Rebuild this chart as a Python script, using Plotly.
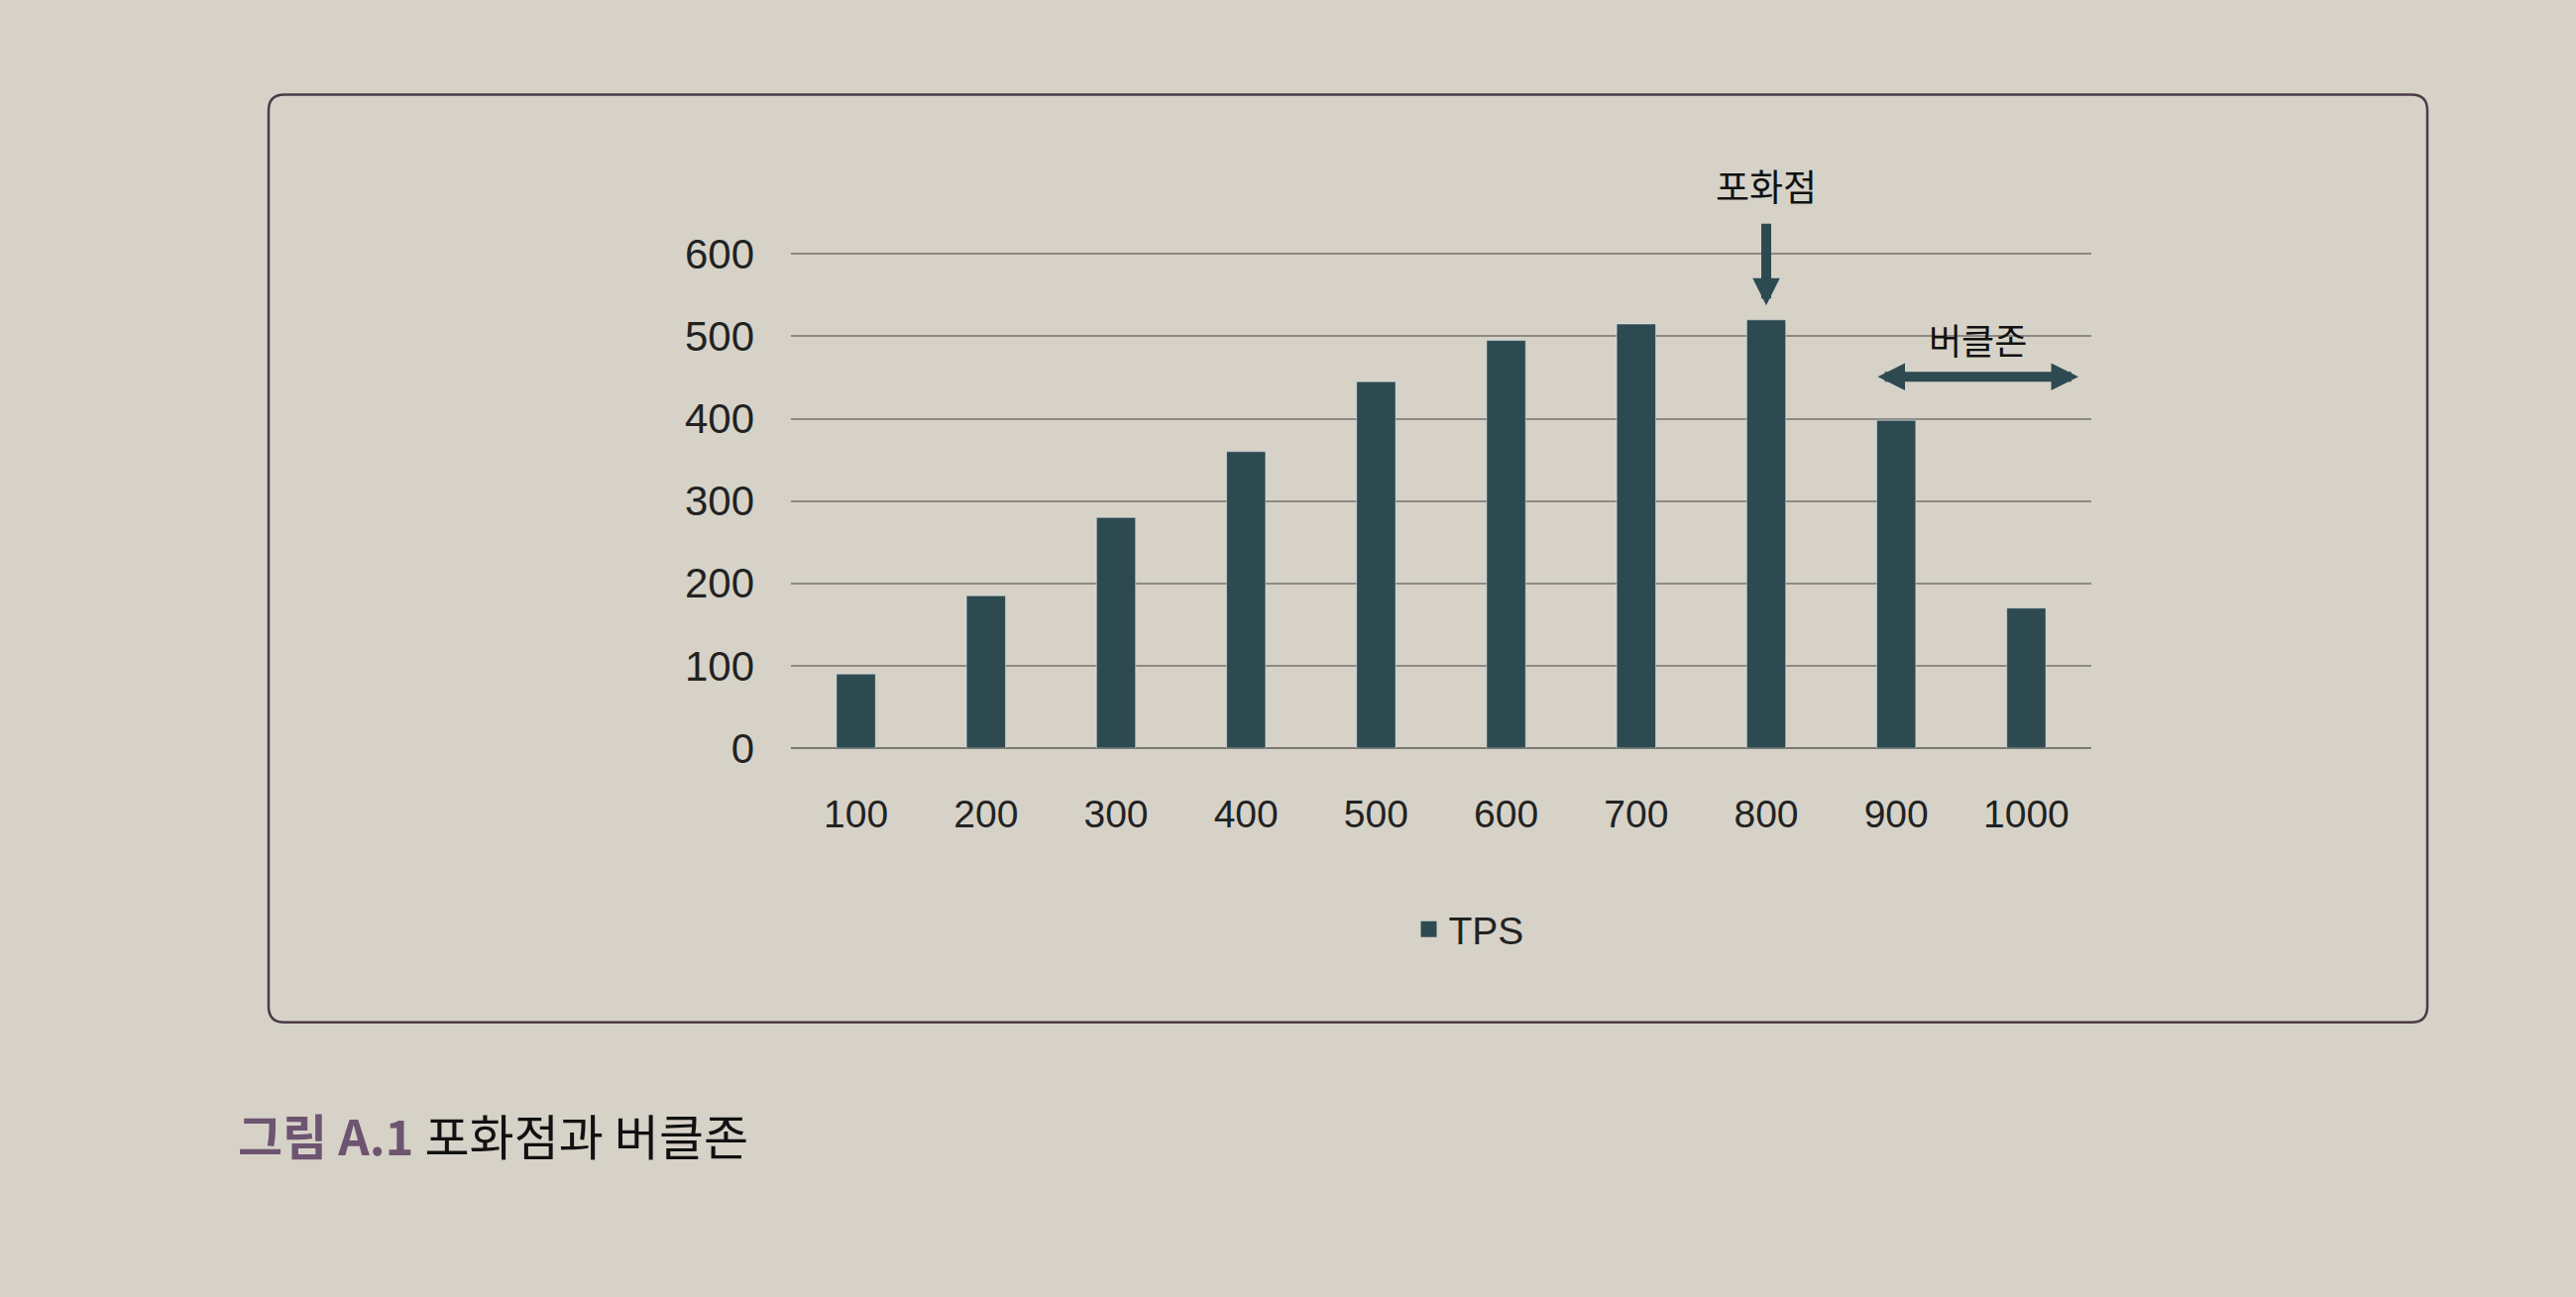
import plotly.graph_objects as go

# 동시 사용자 수별 TPS (사진에서 읽은 값)
users = ["100", "200", "300", "400", "500", "600", "700", "800", "900", "1000"]
tps = [90, 185, 280, 360, 445, 495, 515, 520, 398, 170]
y_ticks = [0, 100, 200, 300, 400, 500, 600]
peak = "800"

W, H = 2599, 1309
Y_MAX = 610
L, R, B = 798, 2110, 755           # plot area in px
T = B - (B - 256) * Y_MAX / 600     # keeps the 600 line at y=256px

BG = "#d6d2c8"
BAR = "#2e4a51"
KR = "Noto Sans CJK KR"
NUM = "Liberation Sans, Noto Sans CJK KR"


def px(x, y):
    # pixel -> paper coords
    return (x - L) / (R - L), (B - y) / (B - T)


def rounded_box(x0, y0, x1, y1, r):
    pts = [
        ("M", [(x0 + r, y0)]),
        ("L", [(x1 - r, y0)]),
        ("Q", [(x1, y0), (x1, y0 + r)]),
        ("L", [(x1, y1 - r)]),
        ("Q", [(x1, y1), (x1 - r, y1)]),
        ("L", [(x0 + r, y1)]),
        ("Q", [(x0, y1), (x0, y1 - r)]),
        ("L", [(x0, y0 + r)]),
        ("Q", [(x0, y0), (x0 + r, y0)]),
    ]
    out = ""
    for cmd, coords in pts:
        out += cmd + " ".join("%.5f,%.5f" % px(a, b) for a, b in coords) + " "
    return out + "Z"


fig = go.Figure()
fig.add_trace(go.Bar(x=users, y=tps, name="TPS", marker_color=BAR, width=0.3,
                     showlegend=False))
# legend entry only (bigger square than the bar icon)
fig.add_trace(go.Scatter(x=[None], y=[None], mode="markers", name="TPS",
                         marker=dict(symbol="square", size=16, color=BAR)))

fig.update_layout(
    width=W, height=H,
    margin=dict(l=L, r=W - R, t=T, b=H - B, autoexpand=False),
    paper_bgcolor=BG, plot_bgcolor=BG,
    font=dict(family=NUM, size=38, color="#222222"),
    showlegend=True,
    legend=dict(orientation="h", x=px(1482, 0)[0], y=px(0, 938)[1],
                xanchor="center", yanchor="middle", bgcolor="rgba(0,0,0,0)",
                font=dict(size=39, family=NUM, color="#222222")),
    bargap=0.7,
)
fig.update_xaxes(type="category", range=[-0.5, len(users) - 0.5],
                 showgrid=False, showline=False, zeroline=False,
                 ticks="", ticklabelstandoff=40,
                 tickfont=dict(size=39, family=NUM, color="#222222"))
fig.update_yaxes(range=[0, Y_MAX], tickvals=y_ticks, showgrid=True,
                 gridcolor="#8e8a83", gridwidth=1.5, zeroline=True,
                 zerolinecolor="#7c7973", zerolinewidth=1.5,
                 ticks="", ticklabelstandoff=36,
                 tickfont=dict(size=42, family=NUM, color="#222222"))

# 그림 테두리
fig.add_shape(type="path", xref="paper", yref="paper",
              path=rounded_box(271, 95, 2449, 1032, 16),
              line=dict(color="#4a3c47", width=2.5), layer="below")

# 포화점 화살표
pi = users.index(peak)
fig.add_annotation(x=pi, xref="x", y=px(0, 308)[1], yref="paper",
                   text="", showarrow=True, ax=0, ay=-84,
                   arrowhead=2, arrowsize=0.55, arrowwidth=10, arrowcolor=BAR)
fig.add_annotation(x=pi, xref="x", y=px(0, 187)[1], yref="paper",
                   xanchor="center", yanchor="middle",
                   text="포화점", showarrow=False,
                   font=dict(family=KR, size=37, color="#111111"))

# 버클존 양방향 화살표
bx, by = px(2097, 380)
fig.add_annotation(x=bx, xref="paper", y=by, yref="paper",
                   text="", showarrow=True, ax=-204, ay=0, arrowside="end+start",
                   arrowhead=2, arrowsize=0.55, arrowwidth=10, arrowcolor=BAR)
tx, ty = px(1995, 342)
fig.add_annotation(x=tx, xref="paper", y=ty, yref="paper",
                   xanchor="center", yanchor="middle",
                   text="버클존", showarrow=False,
                   font=dict(family=KR, size=36, color="#111111"))

# 캡션
cx, cy = px(238, 1145)
fig.add_annotation(x=cx, xref="paper", y=cy, yref="paper",
                   xanchor="left", yanchor="middle", showarrow=False,
                   text="<b><span style='color:#6d5470'>그림 A.1</span></b> 포화점과 버클존",
                   font=dict(family=KR, size=49, color="#111111"))

fig.write_html("out.html", config={"displayModeBar": False},
               post_script="document.body.style.margin='0';")
